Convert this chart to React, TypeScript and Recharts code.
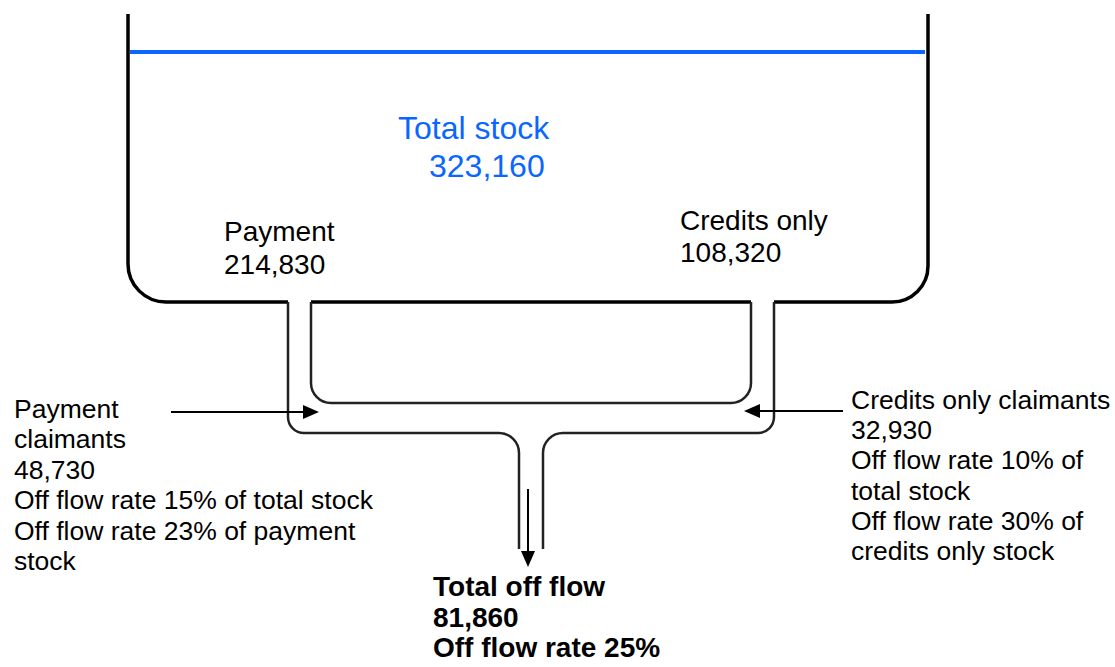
import { ComposedChart, XAxis, YAxis, Line, Scatter } from "recharts"

const W = 1115
const H = 667

// values
const stockNames = ["Total stock", "Payment", "Credits only"]
const stockCounts = [323160, 214830, 108320]
const claimantNames = ["Payment", "Credits only"]
const offFlowCounts = [48730, 32930]
const rateOfTotalStock = [15, 10]
const rateOfOwnStock = [23, 30]
const ownStockNames = ["payment", "credits only"]
const totalOffFlow = 81860
const totalOffFlowRate = 25

const fmt = (n: number) => n.toLocaleString("en-US")

// tank / pipe outline, in pixel units of the axes
const tankLeft = [{ x: 128, y: 14 }, { x: 128, y: 302 }, { x: 288, y: 302 }]
const tankRight = [{ x: 774, y: 302 }, { x: 928, y: 302 }, { x: 928, y: 14 }]
const tankFloor = [{ x: 311, y: 302 }, { x: 751, y: 302 }]
const surface = [{ x: 130, y: 52 }, { x: 925, y: 52 }]
const pipeLeftOuter = [{ x: 288, y: 302 }, { x: 288, y: 433 }, { x: 519, y: 433 }, { x: 519, y: 549 }]
const pipeInner = [{ x: 311, y: 302 }, { x: 311, y: 403 }, { x: 751, y: 403 }, { x: 751, y: 302 }]
const pipeRightOuter = [{ x: 774, y: 302 }, { x: 774, y: 433 }, { x: 543, y: 433 }, { x: 543, y: 549 }]
const arrowLeft = [{ x: 171, y: 412 }, { x: 306, y: 412 }]
const arrowRight = [{ x: 843, y: 411 }, { x: 758, y: 411 }]
const arrowDown = [{ x: 528, y: 489 }, { x: 528, y: 555 }]
const arrowTips = [
  { x: 319, y: 412, dir: 0 },
  { x: 744, y: 411, dir: 180 },
  { x: 528, y: 567, dir: 90 },
]

// polyline with rounded corners (d3 curve factory)
const rounded = (radii: number[]) => (ctx: any) => {
  let pts: number[][] = []
  return {
    areaStart() {},
    areaEnd() {},
    lineStart() { pts = [] },
    point(x: number, y: number) { pts.push([+x, +y]) },
    lineEnd() {
      if (!pts.length) return
      ctx.moveTo(pts[0][0], pts[0][1])
      for (let i = 1; i < pts.length - 1; i++) {
        ctx.arcTo(pts[i][0], pts[i][1], pts[i + 1][0], pts[i + 1][1], radii[i - 1] ?? 0)
      }
      const last = pts[pts.length - 1]
      ctx.lineTo(last[0], last[1])
    },
  }
}

const outlines = [
  { id: "tankLeft", pts: tankLeft, r: [38], color: "#000", w: 3.5 },
  { id: "tankRight", pts: tankRight, r: [36], color: "#000", w: 3.5 },
  { id: "tankFloor", pts: tankFloor, r: [], color: "#000", w: 3.5 },
  { id: "surface", pts: surface, r: [], color: "#0a66ff", w: 4 },
  { id: "pipeLeftOuter", pts: pipeLeftOuter, r: [16, 20], color: "#222", w: 2.5 },
  { id: "pipeInner", pts: pipeInner, r: [20, 20], color: "#222", w: 2.5 },
  { id: "pipeRightOuter", pts: pipeRightOuter, r: [16, 20], color: "#222", w: 2.5 },
  { id: "arrowLeft", pts: arrowLeft, r: [], color: "#000", w: 2 },
  { id: "arrowRight", pts: arrowRight, r: [], color: "#000", w: 2 },
  { id: "arrowDown", pts: arrowDown, r: [], color: "#000", w: 2 },
]

const textBlocks = [
  { lines: [stockNames[0]], x: 398, y: 139, size: 32, color: "#0a66ff", weight: 400, lh: 0 },
  { lines: [fmt(stockCounts[0])], x: 429, y: 177, size: 32, color: "#0a66ff", weight: 400, lh: 0 },
  { lines: [stockNames[1], fmt(stockCounts[1])], x: 224, y: 241, size: 28, color: "#000", weight: 400, lh: 33 },
  { lines: [stockNames[2], fmt(stockCounts[2])], x: 680, y: 230, size: 28, color: "#000", weight: 400, lh: 32 },
  {
    lines: [
      claimantNames[0],
      "claimants",
      fmt(offFlowCounts[0]),
      `Off flow rate ${rateOfTotalStock[0]}% of total stock`,
      `Off flow rate ${rateOfOwnStock[0]}% of ${ownStockNames[0]}`,
      "stock",
    ],
    x: 14, y: 418, size: 26.5, color: "#000", weight: 400, lh: 30.4,
  },
  {
    lines: [
      `${claimantNames[1]} claimants`,
      fmt(offFlowCounts[1]),
      `Off flow rate ${rateOfTotalStock[1]}% of`,
      "total stock",
      `Off flow rate ${rateOfOwnStock[1]}% of`,
      `${ownStockNames[1]} stock`,
    ],
    x: 851, y: 409, size: 26.5, color: "#000", weight: 400, lh: 30.2,
  },
  {
    lines: ["Total off flow", fmt(totalOffFlow), `Off flow rate ${totalOffFlowRate}%`],
    x: 433, y: 596, size: 28, color: "#000", weight: 700, lh: 30.5,
  },
]

function TextBlock(props: any) {
  const { cx, cy, payload } = props
  return (
    <text
      x={cx}
      y={cy}
      fill={payload.color}
      fontSize={payload.size}
      fontWeight={payload.weight}
      fontFamily="Liberation Sans, Arial, sans-serif"
    >
      {payload.lines.map((l: string, i: number) => (
        <tspan key={i} x={cx} dy={i === 0 ? 0 : payload.lh}>
          {l}
        </tspan>
      ))}
    </text>
  )
}

function ArrowHead(props: any) {
  const { cx, cy, payload } = props
  return (
    <polygon
      points="0,0 -16,-7 -16,7"
      fill="#000"
      transform={`translate(${cx},${cy}) rotate(${payload.dir})`}
    />
  )
}

export default function App() {
  return (
    <div style={{ width: W, height: H, background: "#fff" }}>
      <style>{"body{margin:0}"}</style>
      <ComposedChart width={W} height={H} margin={{ top: 0, right: 0, bottom: 0, left: 0 }}>
        <XAxis type="number" dataKey="x" domain={[0, W]} hide allowDataOverflow />
        <YAxis type="number" dataKey="y" domain={[0, H]} reversed hide allowDataOverflow />
        {outlines.map((o) => (
          <Line
            key={o.id}
            data={o.pts}
            dataKey="y"
            type={rounded(o.r) as any}
            stroke={o.color}
            strokeWidth={o.w}
            dot={false}
            activeDot={false}
            legendType="none"
            isAnimationActive={false}
          />
        ))}
        <Scatter data={arrowTips} shape={ArrowHead} isAnimationActive={false} />
        <Scatter data={textBlocks} shape={TextBlock} isAnimationActive={false} />
      </ComposedChart>
    </div>
  )
}
